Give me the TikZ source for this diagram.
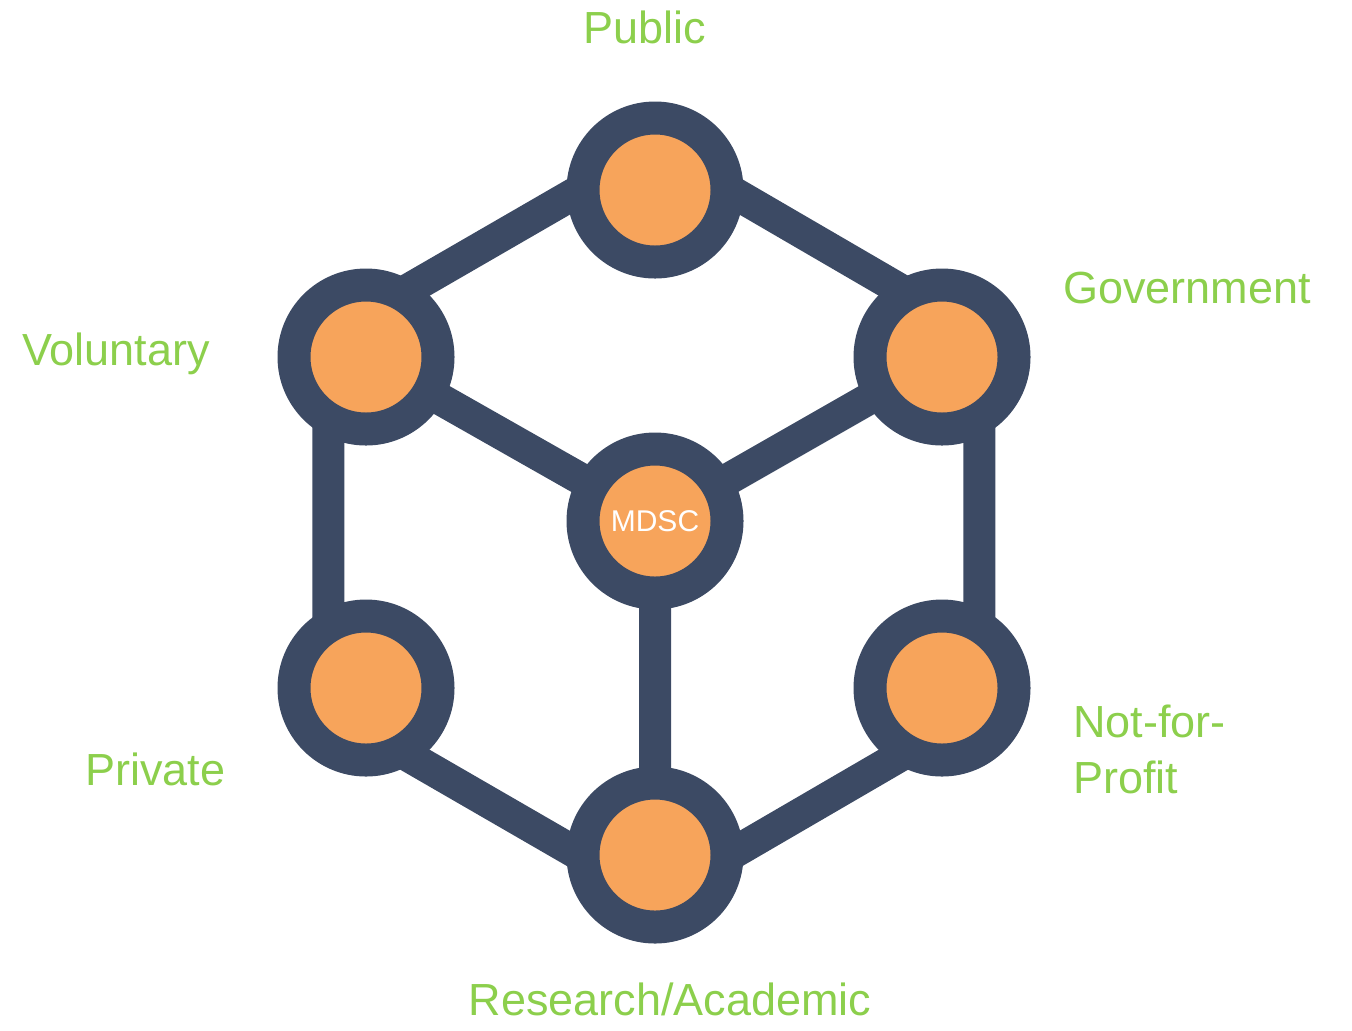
\documentclass[tikz,border=0pt]{standalone}
\usepackage{fontspec}
\setmainfont{Liberation Sans}
\usetikzlibrary{calc,backgrounds}
\definecolor{hubdark}{HTML}{3C4A64}
\definecolor{huborange}{HTML}{F7A45B}
\definecolor{hubgreen}{HTML}{8CCF4C}

\begin{document}
\begin{tikzpicture}[x=0.5pt,y=-0.5pt,
    hub/.style={circle,draw=hubdark,fill=huborange,line width=16.5pt,minimum size=72pt,inner sep=0pt,
        text=white,font=\fontsize{15}{16}\selectfont},
    link/.style={draw=hubdark,line width=16pt},
    sector/.style={text=hubgreen,inner sep=0pt,font=\fontsize{22.5}{28}\selectfont}]

    \useasboundingbox (0,0) rectangle (1352,1030);

    \node[hub] (pub) at (655,190) {};
    \node[hub] (vol) at (366,357) {};
    \node[hub] (gov) at (942,357) {};
    \node[hub] (mdsc) at (655,521) {MDSC};
    \node[hub] (pri) at (366,688) {};
    \node[hub] (nfp) at (942,688) {};
    \node[hub] (res) at (655,855) {};

    \begin{scope}[on background layer]
        \foreach \n in {pub,vol,gov,pri,nfp,res}
            \coordinate (\n O) at ($(mdsc.center)!1.13!(\n.center)$);
        \draw[link] (pubO) -- (govO) -- (nfpO) -- (resO) -- (priO) -- (volO) -- cycle;
        \draw[link] (vol.center) -- (mdsc.center) -- (gov.center) (mdsc.center) -- (res.center);
    \end{scope}

    \node[sector,anchor=base] (pubL) at (645,43) {Public};
    \node[sector,anchor=base west] (govL) at (1063,303) {Government};
    \node[sector,anchor=base west] (volL) at (22,365) {Voluntary};
    \node[sector,anchor=base west] (priL) at (85,785) {Private};
    \node[sector,anchor=base west,align=left] (nfpL) at (1073,793) {Not-for-\\Profit};
    \node[sector,anchor=base] (resL) at (670,1015) {Research/Academic};

\end{tikzpicture}
\end{document}
